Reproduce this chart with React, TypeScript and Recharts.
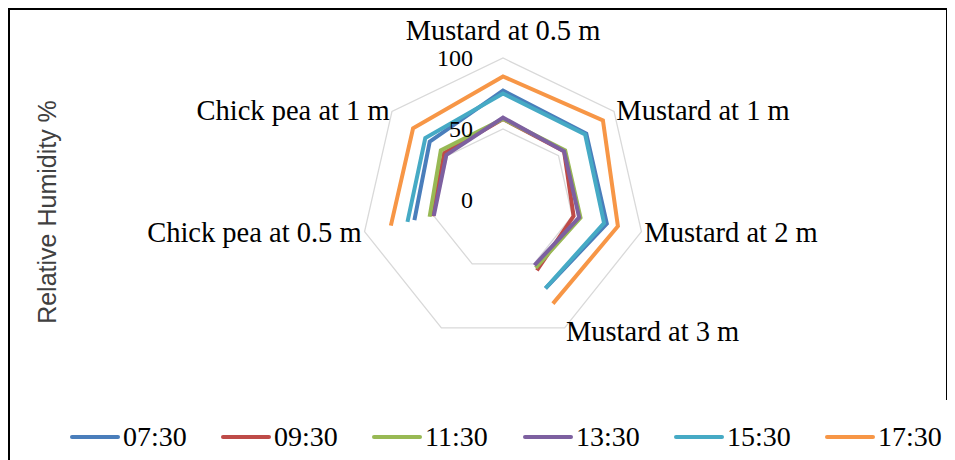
import React from "react";
import {
  Legend,
  PolarAngleAxis,
  PolarGrid,
  PolarRadiusAxis,
  Radar,
  RadarChart,
} from "recharts";

// order starts at the left spoke so the blank spoke comes last (line stays open there)
const locations = [
  "Chick pea at 0.5 m",
  "Chick pea at 1 m",
  "Mustard at 0.5 m",
  "Mustard at 1 m",
  "Mustard at 2 m",
  "Mustard at 3 m",
  "",
];

const times = ["07:30", "09:30", "11:30", "13:30", "15:30", "17:30"];
const colors = ["#4a7ebb", "#be4b48", "#98b954", "#7d60a0", "#46aac5", "#f79646"];

const rh0730 = [64, 66, 77, 75, 75, 69, null];
const rh0930 = [51, 53, 57, 55, 51, 55, null];
const rh1130 = [53, 56, 57, 56, 56, 53, null];
const rh1330 = [50, 51, 58, 55, 55, 51, null];
const rh1530 = [69, 70, 75, 74, 73, 69, null];
const rh1730 = [81, 81, 87, 90, 83, 81, null];

const series = [rh0730, rh0930, rh1130, rh1330, rh1530, rh1730];

const data = locations.map((loc, i) => {
  const row: Record<string, string | number | null> = { loc };
  times.forEach((t, s) => {
    row[t] = series[s][i];
  });
  return row;
});

const serif = "'Liberation Serif', 'Times New Roman', serif";

// draws the radar points as an open line, skipping the empty spoke
const OpenLine = (props: any) => {
  const { points, stroke, strokeWidth, dataKey } = props;
  const valid = (points || []).filter(
    (p: any) => p.payload && p.payload[dataKey] != null && isFinite(p.x) && isFinite(p.y)
  );
  const d = valid.map((p: any, i: number) => `${i ? "L" : "M"}${p.x},${p.y}`).join("");
  return <path d={d} fill="none" stroke={stroke} strokeWidth={strokeWidth} />;
};

const AngleTick = (props: any) => {
  const { x, y, textAnchor, payload } = props;
  const top = textAnchor === "middle";
  return (
    <text
      x={x}
      y={top ? y - 15 : y}
      dy={top ? 0 : "0.35em"}
      textAnchor={textAnchor}
      fontFamily={serif}
      fontSize={28.5}
      fill="#000"
    >
      {payload.value}
    </text>
  );
};

const RadiusTick = (props: any) => {
  const { x, y, payload } = props;
  return (
    <text
      x={x - 30}
      y={y}
      dy="0.35em"
      textAnchor="end"
      fontFamily={serif}
      fontSize={24}
      fill="#000"
    >
      {payload.value}
    </text>
  );
};

const LegendContent = (props: any) => (
  <div style={{ display: "flex", paddingLeft: 62 }}>
    {(props.payload || []).map((p: any) => (
      <div
        key={p.value}
        style={{ width: 151, display: "flex", alignItems: "center", flexShrink: 0 }}
      >
        <div style={{ width: 50, height: 4, background: p.color, borderRadius: 2 }} />
        <span
          style={{
            marginLeft: 3,
            fontFamily: serif,
            fontSize: 28,
            lineHeight: "32px",
            color: "#000",
            whiteSpace: "nowrap",
          }}
        >
          {p.value}
        </span>
      </div>
    ))}
  </div>
);

export default function App() {
  return (
    <div style={{ position: "relative", width: 947, height: 452, background: "#fff" }}>
      <RadarChart
        width={947}
        height={452}
        data={data}
        cx={495}
        cy={192}
        outerRadius={142}
        startAngle={90 + 720 / 7}
        endAngle={90 + 720 / 7 - 360}
        style={{ position: "absolute", left: 0, top: 0 }}
      >
        <PolarGrid gridType="polygon" radialLines={false} stroke="#d9d9d9" strokeWidth={1.3} />
        <PolarAngleAxis
          dataKey="loc"
          tick={AngleTick}
          tickSize={3}
          tickLine={false}
          axisLine={false}
        />
        <PolarRadiusAxis
          angle={90}
          domain={[0, 100]}
          tickCount={3}
          tick={RadiusTick}
          tickLine={false}
          axisLine={false}
        />
        {times.map((t, i) => (
          <Radar
            key={t}
            name={t}
            dataKey={t}
            stroke={colors[i]}
            strokeWidth={4}
            fill="none"
            dot={false}
            shape={OpenLine}
            isAnimationActive={false}
          />
        ))}
        <Legend
          content={LegendContent}
          wrapperStyle={{ top: 413, left: 0, bottom: "auto", width: 947 }}
        />
      </RadarChart>
      <div
        style={{
          position: "absolute",
          left: 0,
          top: 0,
          width: 940,
          height: 452,
          borderTop: "2px solid #000",
          borderLeft: "2px solid #000",
          boxSizing: "border-box",
          pointerEvents: "none",
        }}
      />
      <div
        style={{
          position: "absolute",
          left: 938,
          top: 0,
          width: 0,
          height: 392,
          borderLeft: "2px solid #000",
        }}
      />
      <div
        style={{
          position: "absolute",
          left: 39,
          top: 204,
          transform: "translate(-50%, -50%) rotate(-90deg)",
          whiteSpace: "nowrap",
          fontFamily: "'Liberation Sans', Arial, sans-serif",
          fontSize: 25,
          color: "#404040",
        }}
      >
        Relative Humidity %
      </div>
    </div>
  );
}
